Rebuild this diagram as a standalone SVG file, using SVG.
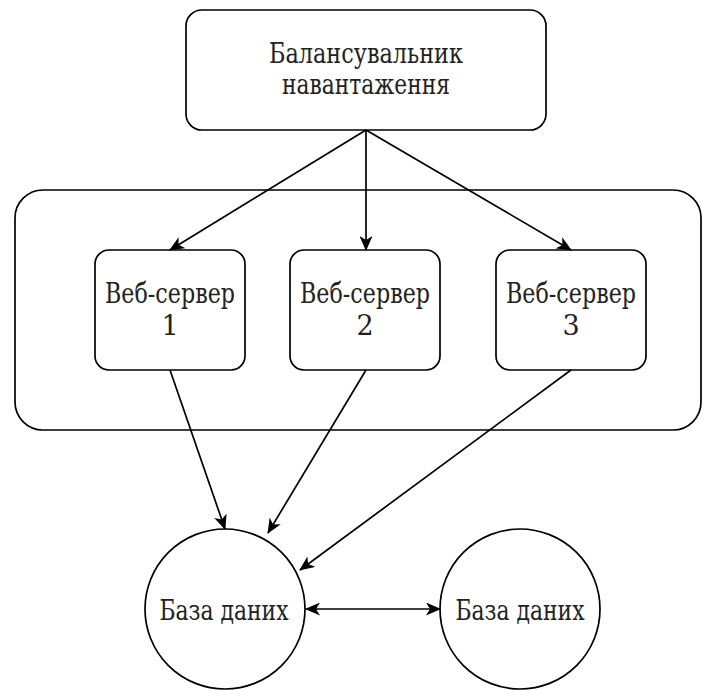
<svg xmlns="http://www.w3.org/2000/svg" width="704" height="690" viewBox="0 0 704 690">
<style>
.shape{fill:#fff;stroke:#000;stroke-width:1.7}
.lbl{font-family:"DejaVu Serif","Noto Serif","Liberation Serif",serif;font-size:27px;fill:#222;text-anchor:middle}
.edge{fill:none;stroke:#000;stroke-width:1.7}
</style>
<defs>
<marker id="arr" viewBox="0 0 15 13" refX="14" refY="6.5" markerWidth="15" markerHeight="13" markerUnits="userSpaceOnUse" orient="auto-start-reverse">
<path d="M0,0 L15,6.5 L0,13 L4,6.5 z" fill="#000"/>
</marker>
</defs>
<rect width="704" height="690" fill="#fff"/>
<g id="cluster"><rect class="shape" x="15" y="190" width="686" height="240" rx="28"/></g>
<g id="lb"><rect class="shape" x="186" y="10" width="360" height="120" rx="16"/>
<text class="lbl" x="366" y="63" textLength="194" lengthAdjust="spacingAndGlyphs">Балансувальник</text><text class="lbl" x="366" y="94" textLength="168" lengthAdjust="spacingAndGlyphs">навантаження</text></g>
<g id="ws1"><rect class="shape" x="95" y="250" width="150" height="120" rx="14"/>
<text class="lbl" x="170" y="303" textLength="130" lengthAdjust="spacingAndGlyphs">Веб-сервер</text><text class="lbl" x="170" y="335">1</text></g>
<g id="ws2"><rect class="shape" x="290" y="250" width="150" height="120" rx="14"/>
<text class="lbl" x="365" y="303" textLength="130" lengthAdjust="spacingAndGlyphs">Веб-сервер</text><text class="lbl" x="365" y="335">2</text></g>
<g id="ws3"><rect class="shape" x="496" y="250" width="150" height="120" rx="14"/>
<text class="lbl" x="571" y="303" textLength="130" lengthAdjust="spacingAndGlyphs">Веб-сервер</text><text class="lbl" x="571" y="335">3</text></g>
<g id="db1"><circle class="shape" cx="225" cy="609" r="80"/><text class="lbl" x="224" y="620" textLength="129" lengthAdjust="spacingAndGlyphs">База даних</text></g>
<g id="db2"><circle class="shape" cx="520" cy="609" r="80"/><text class="lbl" x="520" y="620" textLength="129" lengthAdjust="spacingAndGlyphs">База даних</text></g>
<g id="connectors">
<path class="edge" d="M366,130 L170,250" marker-end="url(#arr)"/>
<path class="edge" d="M366,130 L366,250" marker-end="url(#arr)"/>
<path class="edge" d="M366,130 L571,250" marker-end="url(#arr)"/>
<path class="edge" d="M170,370 L225,529" marker-end="url(#arr)"/>
<path class="edge" d="M366,370 L268,533" marker-end="url(#arr)"/>
<path class="edge" d="M571,370 L300,570" marker-end="url(#arr)"/>
<path class="edge" d="M306,609 L440,609" marker-start="url(#arr)" marker-end="url(#arr)"/>
</g>
</svg>
